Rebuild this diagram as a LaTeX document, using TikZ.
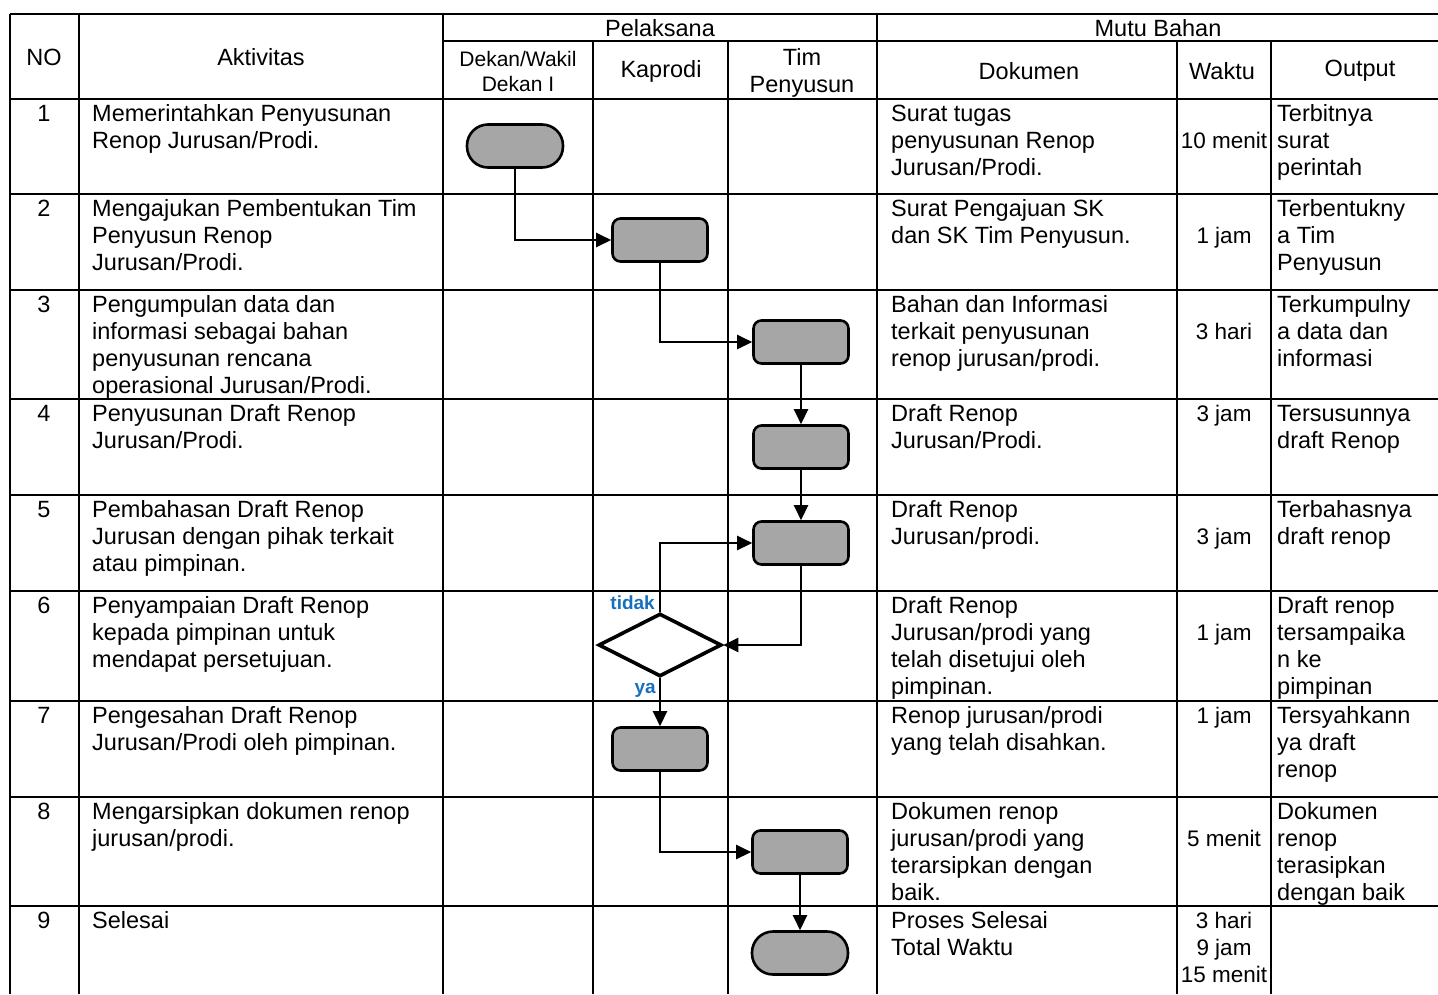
\documentclass[tikz,border=0pt]{standalone}
\usepackage{fontspec}
\setmainfont{Liberation Sans}
\usetikzlibrary{arrows.meta,shapes.geometric}
\definecolor{boxgray}{RGB}{166,166,166}
\definecolor{lblblue}{RGB}{22,112,192}
\begin{document}
\begin{tikzpicture}[x=1pt,y=-1pt,
  grid/.style={line width=2.2pt,black},
  txt/.style={font=\fontsize{23.5}{27}\selectfont,inner sep=0pt,align=left,anchor=north west},
  ctr/.style={font=\fontsize{23.5}{27}\selectfont,inner sep=0pt,anchor=base},
  wak/.style={font=\fontsize{22.5}{27}\selectfont,inner sep=0pt,anchor=base},
  wakm/.style={font=\fontsize{22.5}{27}\selectfont,inner sep=0pt,align=center,anchor=north},
  hdr/.style={font=\fontsize{23.5}{27}\selectfont,inner sep=0pt,align=center},
  hdrs/.style={font=\fontsize{21}{25}\selectfont,inner sep=0pt,align=center},
  term/.style={draw,line width=2.6pt,fill=boxgray,rounded corners=21pt,minimum width=96pt,minimum height=43pt,inner sep=0pt},
  proc/.style={draw,line width=2.6pt,fill=boxgray,rounded corners=8pt,minimum width=95pt,minimum height=43pt,inner sep=0pt},
  dec/.style={draw,line width=3.6pt,fill=white,diamond,minimum width=123pt,minimum height=63pt,inner sep=0pt},
  conn/.style={line width=2.4pt,-{Triangle[length=15pt,width=14pt]}},
  lbl/.style={font=\fontsize{19}{22}\selectfont\bfseries,text=lblblue,inner sep=0pt}
]
\useasboundingbox (0,0) rectangle (1438,994);
\begin{scope}
\clip (0,0) rectangle (1438,994);
% horizontal lines
\draw[grid] (10,14) -- (1449,14);
\draw[grid] (443,41) -- (1449,41);
\foreach \yy in {99,194,290,399,495,591,701,797,906}
  \draw[grid] (10,\yy) -- (1449,\yy);
% vertical lines
\foreach \xx in {10,79,443,877,1449}
  \draw[grid] (\xx,14) -- (\xx,994);
\foreach \xx in {593,728,1177,1271}
  \draw[grid] (\xx,41) -- (\xx,994);
\end{scope}

% header
\node[hdr] (hno) at (44,57) {NO};
\node[hdr] (hakt) at (261,57) {Aktivitas};
\node[hdr] (hpel) at (660,28) {Pelaksana};
\node[hdr] (hmutu) at (1158,28) {Mutu Bahan};
\node[hdrs] (hdekan) at (518,71) {Dekan/Wakil\\Dekan I};
\node[hdr] (hkap) at (661,71) {Kaprodi};
\node[hdr] (htim) at (802,73) {Tim\\Penyusun};
\node[hdr] (hdok) at (1029,71) {Dokumen};
\node[hdr] (hwak) at (1222,71) {Waktu};
\node[hdr] (hout) at (1360,71) {Output};

% numbers
\node[ctr] (n1) at (44,121) {1};
\node[ctr] (n2) at (44,216) {2};
\node[ctr] (n3) at (44,312) {3};
\node[ctr] (n4) at (44,421) {4};
\node[ctr] (n5) at (44,517) {5};
\node[ctr] (n6) at (44,613) {6};
\node[ctr] (n7) at (44,723) {7};
\node[ctr] (n8) at (44,819) {8};
\node[ctr] (n9) at (44,928) {9};

% aktivitas
\node[txt] (a1) at (92,102.1) {\strut Memerintahkan Penyusunan\\Renop Jurusan/Prodi.};
\node[txt] (a2) at (92,197.1) {\strut Mengajukan Pembentukan Tim\\Penyusun Renop\\Jurusan/Prodi.};
\node[txt] (a3) at (92,293.1) {\strut Pengumpulan data dan\\informasi sebagai bahan\\penyusunan rencana\\operasional Jurusan/Prodi.};
\node[txt] (a4) at (92,402.1) {\strut Penyusunan Draft Renop\\Jurusan/Prodi.};
\node[txt] (a5) at (92,498.1) {\strut Pembahasan Draft Renop\\Jurusan dengan pihak terkait\\atau pimpinan.};
\node[txt] (a6) at (92,594.1) {\strut Penyampaian Draft Renop\\kepada pimpinan untuk\\mendapat persetujuan.};
\node[txt] (a7) at (92,704.1) {\strut Pengesahan Draft Renop\\Jurusan/Prodi oleh pimpinan.};
\node[txt] (a8) at (92,800.1) {\strut Mengarsipkan dokumen renop\\jurusan/prodi.};
\node[txt] (a9) at (92,909.1) {\strut Selesai};

% dokumen
\node[txt] (d1) at (891,102.1) {\strut Surat tugas\\penyusunan Renop\\Jurusan/Prodi.};
\node[txt] (d2) at (891,197.1) {\strut Surat Pengajuan SK\\dan SK Tim Penyusun.};
\node[txt] (d3) at (891,293.1) {\strut Bahan dan Informasi\\terkait penyusunan\\renop jurusan/prodi.};
\node[txt] (d4) at (891,402.1) {\strut Draft Renop\\Jurusan/Prodi.};
\node[txt] (d5) at (891,498.1) {\strut Draft Renop\\Jurusan/prodi.};
\node[txt] (d6) at (891,594.1) {\strut Draft Renop\\Jurusan/prodi yang\\telah disetujui oleh\\pimpinan.};
\node[txt] (d7) at (891,704.1) {\strut Renop jurusan/prodi\\yang telah disahkan.};
\node[txt] (d8) at (891,800.1) {\strut Dokumen renop\\jurusan/prodi yang\\terarsipkan dengan\\baik.};
\node[txt] (d9) at (891,909.1) {\strut Proses Selesai\\Total Waktu};

% waktu
\node[wak] (w1) at (1224,148) {10 menit};
\node[wak] (w2) at (1224,243) {1 jam};
\node[wak] (w3) at (1224,339) {3 hari};
\node[wak] (w4) at (1224,421) {3 jam};
\node[wak] (w5) at (1224,544) {3 jam};
\node[wak] (w6) at (1224,640) {1 jam};
\node[wak] (w7) at (1224,723) {1 jam};
\node[wak] (w8) at (1224,846) {5 menit};
\node[wakm] (w9) at (1224,909.1) {\strut 3 hari\\9 jam\\15 menit};

% output
\node[txt] (o1) at (1277,102.1) {\strut Terbitnya\\surat\\perintah};
\node[txt] (o2) at (1277,197.1) {\strut Terbentukny\\a Tim\\Penyusun};
\node[txt] (o3) at (1277,293.1) {\strut Terkumpulny\\a data dan\\informasi};
\node[txt] (o4) at (1277,402.1) {\strut Tersusunnya\\draft Renop};
\node[txt] (o5) at (1277,498.1) {\strut Terbahasnya\\draft renop};
\node[txt] (o6) at (1277,594.1) {\strut Draft renop\\tersampaika\\n ke\\pimpinan};
\node[txt] (o7) at (1277,704.1) {\strut Tersyahkann\\ya draft\\renop};
\node[txt] (o8) at (1277,800.1) {\strut Dokumen\\renop\\terasipkan\\dengan baik};

% flow shapes
\node[term] (t1) at (515,146) {};
\node[proc] (b2) at (660,240) {};
\node[proc] (b3) at (801,342) {};
\node[proc] (b4) at (801,447) {};
\node[proc] (b5) at (801,543) {};
\node[dec]  (q6) at (660,645) {};
\node[proc] (b7) at (660,749) {};
\node[proc] (b8) at (800,852) {};
\node[term] (t9) at (800,953) {};

% connectors
\draw[conn] (t1.south) |- (b2.west);
\draw[conn] (b2.south) |- (b3.west);
\draw[conn] (b3.south) -- (b4.north);
\draw[conn] (b4.south) -- (b5.north);
\draw[conn] (b5.south) |- (q6.east);
\draw[conn] (q6.north) |- (b5.west);
\draw[conn] (q6.south) -- (b7.north);
\draw[conn] (b7.south) |- (b8.west);
\draw[conn] (b8.south) -- (t9.north);

% labels
\node[lbl,anchor=east] (ltidak) at (655,603) {tidak};
\node[lbl,anchor=east] (lya) at (656,690) {ya};
\end{tikzpicture}
\end{document}
